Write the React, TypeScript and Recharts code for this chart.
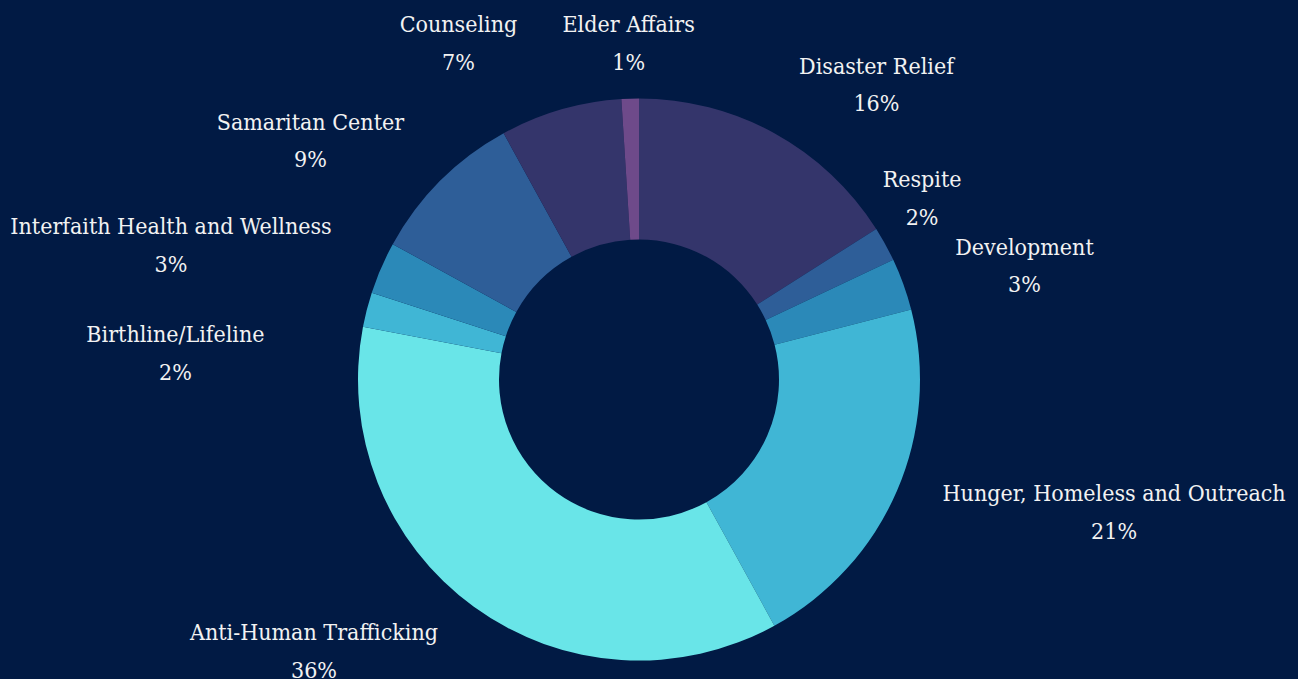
import { PieChart, Pie, Cell } from "recharts";

const categories = [
  "Disaster Relief",
  "Respite",
  "Development",
  "Hunger, Homeless and Outreach",
  "Anti-Human Trafficking",
  "Birthline/Lifeline",
  "Interfaith Health and Wellness",
  "Samaritan Center",
  "Counseling",
  "Elder Affairs",
];
const shares = [16, 2, 3, 21, 36, 2, 3, 9, 7, 1];
const sliceColors = [
  "#34356b",
  "#2e5e98",
  "#2b89b8",
  "#40b6d5",
  "#69e5e8",
  "#40b6d5",
  "#2b89b8",
  "#2e5e98",
  "#34356b",
  "#6e4a8a",
];

// where each label sits: degrees clockwise from 12 o'clock and distance from the pie centre
const labelAngles = [39.6, 58.5, 74.6, 106.5, 229.3, 272.3, 285.1, 305.1, 331.2, 358.2];
const labelDistances = [372.5, 332, 399.8, 495.5, 428.7, 463.9, 484.7, 401.6, 374.8, 328.7];

const data = categories.map((name, i) => ({ name, value: shares[i] }));

const BG = "#011a44";
const FONT = "'DejaVu Serif Condensed', 'DejaVu Serif', serif";
const LINE_GAP = 37.5;

const renderLabel = (props: any) => {
  const { cx, cy, index } = props;
  const a = (labelAngles[index] * Math.PI) / 180;
  const x = cx + labelDistances[index] * Math.sin(a);
  const y = cy - labelDistances[index] * Math.cos(a);
  return (
    <g key={`lbl-${index}`}>
      <text x={x} y={y - LINE_GAP / 2} textAnchor="middle" fill="#f2f2f2" fontSize={23} fontFamily={FONT}>
        {categories[index]}
      </text>
      <text x={x} y={y + LINE_GAP / 2} textAnchor="middle" fill="#f2f2f2" fontSize={23} fontFamily={FONT}>
        {`${shares[index]}%`}
      </text>
    </g>
  );
};

export default function App() {
  return (
    <div style={{ position: "absolute", left: 0, top: 0, width: 1298, height: 679, background: BG }}>
      <PieChart width={1298} height={679} margin={{ top: 0, right: 0, bottom: 0, left: 0 }}>
        <Pie
          data={data}
          dataKey="value"
          nameKey="name"
          cx={639}
          cy={379.5}
          innerRadius={140}
          outerRadius={281}
          startAngle={90}
          endAngle={-270}
          stroke="none"
          labelLine={false}
          label={renderLabel}
          isAnimationActive={false}
        >
          {data.map((d, i) => (
            <Cell key={d.name} fill={sliceColors[i]} />
          ))}
        </Pie>
      </PieChart>
    </div>
  );
}
